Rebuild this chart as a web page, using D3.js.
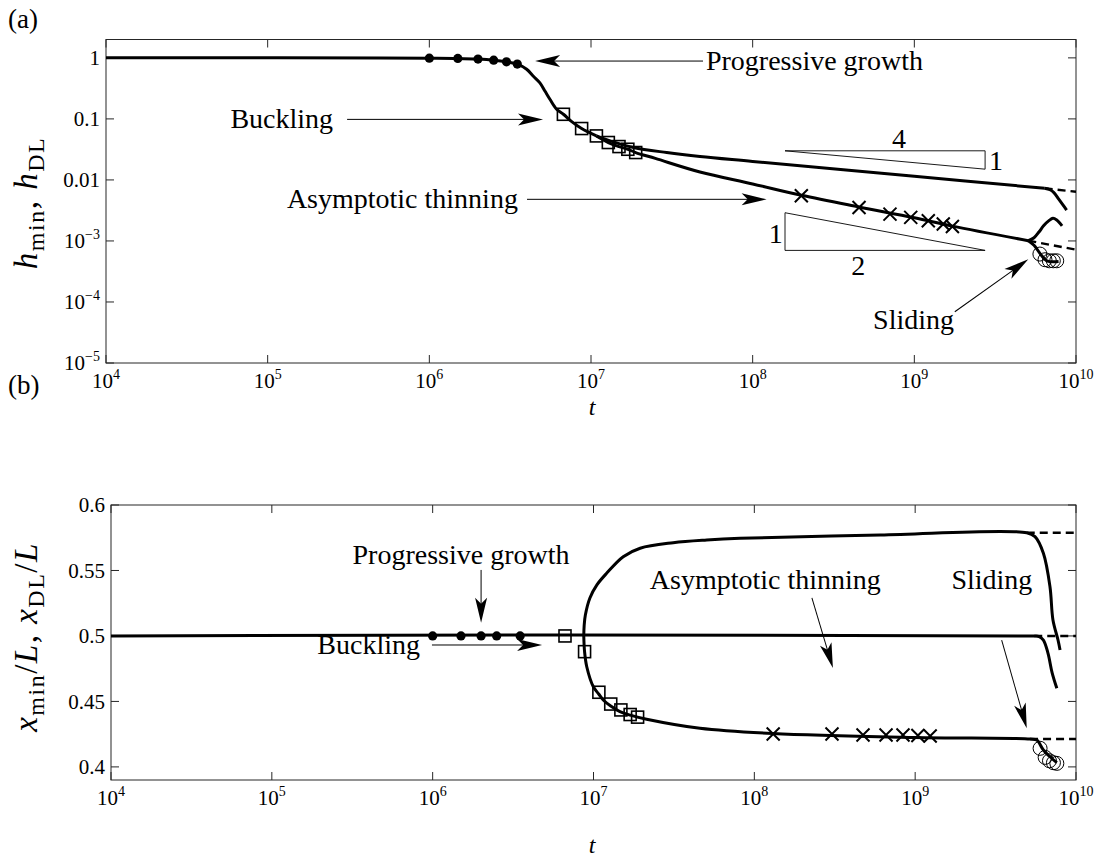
<!DOCTYPE html>
<html>
<head>
<meta charset="utf-8">
<script src="https://cdn.jsdelivr.net/npm/d3@7"></script>
<style>
  body { margin: 0; background: #fff; }
  svg { display: block; }
  svg text { font-family: "Liberation Serif", "DejaVu Serif", "Noto Serif", serif; fill: #000; }
</style>
</head>
<body>
<svg id="fig" width="1105" height="858"></svg>
<script>
// ---------------- axis ticks ----------------
const timeTicks = [1e4, 1e5, 1e6, 1e7, 1e8, 1e9, 1e10];
const timeTickExps = ["4", "5", "6", "7", "8", "9", "10"];
const hTicks = [1, 0.1, 0.01, 1e-3, 1e-4, 1e-5];
const hTickBase = ["1", "0.1", "0.01", "10", "10", "10"];
const hTickExps = ["", "", "", "\u22123", "\u22124", "\u22125"];
const posTicks = [0.6, 0.55, 0.5, 0.45, 0.4];
const posTickLabels = ["0.6", "0.55", "0.5", "0.45", "0.4"];

// ---------------- panel (a): film thickness ----------------
const hEarly = [[1e4, 1], [1e5, 1], [5e5, 0.998], [1e6, 0.99], [1.5e6, 0.98], [2e6, 0.955],
  [2.5e6, 0.915], [3e6, 0.86], [3.5e6, 0.79], [4e6, 0.65], [4.4e6, 0.5], [4.83e6, 0.39],
  [5.2e6, 0.283], [5.57e6, 0.21], [6.13e6, 0.144], [6.75e6, 0.119], [7.6e6, 0.09],
  [8.75e6, 0.0695], [1.08e7, 0.0526]];
const hUpper = [[1.08e7, 0.0526], [1.3e7, 0.044], [1.83e7, 0.034], [2.94e7, 0.0281],
  [4.72e7, 0.0242], [1e8, 0.0201], [1e9, 0.01146], [6.4e9, 0.0073]];
const hUpperDrop = [[6.4e9, 0.0073], [6.9e9, 0.0069], [7.3e9, 0.0062], [7.8e9, 0.0049],
  [8.3e9, 0.0039], [8.75e9, 0.0032]];
const hUpperDash = [[6.4e9, 0.0073], [1e10, 0.0064]];
const hLower = [[1.08e7, 0.0526], [1.28e7, 0.041], [1.49e7, 0.0352], [1.69e7, 0.0318],
  [1.89e7, 0.0281], [2.5e7, 0.0225], [4.72e7, 0.0135], [1e8, 0.0086], [2e8, 0.0056],
  [4.55e8, 0.0036], [1e9, 0.0024], [1.72e9, 0.00175], [5.07e9, 0.00101]];
const hLowerBump = [[5.07e9, 0.00101], [5.5e9, 0.00113], [5.9e9, 0.0014], [6.3e9, 0.00177],
  [6.8e9, 0.00215], [7.2e9, 0.00235], [7.6e9, 0.0022], [8.2e9, 0.00177]];
const hLowerDash = [[5.07e9, 0.00101], [1e10, 0.00072]];
const hLowerSlide = [[5.07e9, 0.00101], [5.5e9, 0.00085], [6.0e9, 0.00062], [6.6e9, 0.000473],
  [7.8e9, 0.00046]];

const growthT_a = [1e6, 1.5e6, 2e6, 2.5e6, 3e6, 3.5e6];
const growthH = [0.99, 0.98, 0.955, 0.915, 0.86, 0.79];
const buckleT = [6.75e6, 8.75e6, 1.08e7, 1.28e7, 1.49e7, 1.69e7, 1.89e7];
const buckleH = [0.119, 0.0695, 0.0526, 0.041, 0.0352, 0.0318, 0.0281];
const thinT_a = [2e8, 4.55e8, 7.07e8, 9.5e8, 1.22e9, 1.51e9, 1.72e9];
const thinH = [0.0055, 0.00354, 0.00275, 0.00243, 0.00214, 0.00189, 0.00173];
const slideT = [5.98e9, 6.43e9, 6.84e9, 7.24e9, 7.6e9];
const slideH = [6.1e-4, 4.92e-4, 4.73e-4, 4.73e-4, 4.73e-4];

// slope triangles (t, h corners) and their labels
const slopeQuarter = [[1.585e8, 0.030], [2.74e9, 0.030], [2.74e9, 0.0150]];
const slopeHalf = [[1.585e8, 0.0029], [1.585e8, 0.0007], [2.74e9, 0.0007]];
const slopeLabels = [["4", 8.04e8, 0.0485], ["1", 3.2e9, 0.0212], ["1", 1.39e8, 0.00136], ["2", 4.5e8, 0.000403]];

// ---------------- panel (b): position of the minimum ----------------
const posFlat = [[1e4, 0.5], [5.5e9, 0.5], [5.9e9, 0.4995], [6.27e9, 0.4969], [6.7e9, 0.4867],
  [7.1e9, 0.472], [7.6e9, 0.46]];
const posFlatDash = [[5.5e9, 0.5], [1e10, 0.5]];
const posUpper = [[8.7e6, 0.5], [8.75e6, 0.508], [8.9e6, 0.516], [9.5e6, 0.529], [1.05e7, 0.539],
  [1.21e7, 0.548], [1.53e7, 0.5605], [1.95e7, 0.567], [3.13e7, 0.5712], [5.06e7, 0.5733],
  [8.15e7, 0.5746], [6.05e8, 0.5771], [4.94e9, 0.5788], [5.56e9, 0.5758], [6.27e9, 0.5631],
  [6.89e9, 0.5376], [7.19e9, 0.5122], [7.73e9, 0.4969], [7.96e9, 0.4893]];
const posUpperDash = [[4.94e9, 0.5788], [1e10, 0.5788]];
const posLower = [[8.7e6, 0.5], [8.8e6, 0.488], [9.08e6, 0.4765], [9.98e6, 0.4612], [1.08e7, 0.4555],
  [1.15e7, 0.4511], [1.28e7, 0.4465], [1.46e7, 0.4422], [1.69e7, 0.4395], [2.14e7, 0.4364],
  [4.59e7, 0.4295], [1.3e8, 0.4255], [1e9, 0.4225], [5.18e9, 0.4213], [5.7e9, 0.4205],
  [6.27e9, 0.4129], [7.06e9, 0.4066], [7.6e9, 0.4032]];
const posLowerDash = [[5.18e9, 0.4213], [1e10, 0.4213]];

const growthT_b = [1e6, 1.5e6, 2e6, 2.5e6, 3.5e6];
const growthV = [0.5, 0.5, 0.5, 0.5, 0.5];
const buckleT_b = [6.65e6, 8.8e6, 1.08e7, 1.28e7, 1.48e7, 1.69e7, 1.88e7];
const buckleV = [0.5, 0.488, 0.457, 0.448, 0.4435, 0.440, 0.438];
const thinT_b = [1.31e8, 3.04e8, 4.74e8, 6.59e8, 8.4e8, 1.04e9, 1.24e9];
const thinV = [0.4251, 0.4251, 0.4244, 0.4244, 0.4244, 0.4240, 0.4236];
const slideT_b = [5.98e9, 6.43e9, 6.84e9, 7.24e9, 7.6e9];
const slideV = [0.4142, 0.4073, 0.4047, 0.4032, 0.4027];

// annotation text and arrows: [label, textT, textY, anchor, fromT, fromY, toT, toY]
const notesA = [
  ["Progressive growth", 5.14e7, 0.887, "start", 4.93e7, 0.887, 4.51e6, 0.887],
  ["Buckling", 2.54e5, 0.0982, "end", 3.1e5, 0.0982, 5.05e6, 0.0982],
  ["Asymptotic thinning", 3.53e6, 0.00481, "end", 4.02e6, 0.00481, 1.22e8, 0.00481],
  ["Sliding", 1.76e9, 5.06e-5, "end", 1.78e9, 6.92e-5, 5.07e9, 4.99e-4]
];
const notesB = [
  ["Progressive growth", 1.5e6, 0.5618, "middle", 2e6, 0.5504, 2e6, 0.5101],
  ["Buckling", 8.34e5, 0.4931, "end", 9.9e5, 0.4931, 4.79e6, 0.4931],
  ["Asymptotic thinning", 1.17e8, 0.5427, "middle", 2.28e8, 0.529, 3.08e8, 0.4755],
  ["Sliding", 3.0e9, 0.5427, "middle", 3.45e9, 0.4969, 4.94e9, 0.4295]
];

// ---------------- drawing ----------------
const svg = d3.select("#fig");
const tickFont = 21, noteFont = 28, labelFont = 33;

const xa = d3.scaleLog().domain([1e4, 1e10]).range([106, 1076]);
const ya = d3.scaleLog().domain([1e-5, 2]).range([363, 39.5]);
const xb = d3.scaleLog().domain([1e4, 1e10]).range([111, 1076]);
const yb = d3.scaleLinear().domain([0.39, 0.6]).range([780, 505]);

function frame(x, y, yTicks, yLabelFn) {
  const [x0, x1] = x.range();
  const [y0, y1] = y.range();
  const g = svg.append("g");
  g.append("rect").attr("x", x0).attr("y", y1).attr("width", x1 - x0).attr("height", y0 - y1)
    .attr("fill", "none").attr("stroke", "#262626").attr("stroke-width", 1);
  const tl = 8;
  timeTicks.forEach((t, i) => {
    const px = x(t);
    g.append("line").attr("x1", px).attr("x2", px).attr("y1", y0).attr("y2", y0 - tl).attr("stroke", "#262626");
    g.append("line").attr("x1", px).attr("x2", px).attr("y1", y1).attr("y2", y1 + tl).attr("stroke", "#262626");
    const tx = g.append("text").attr("x", px).attr("y", y0 + 25).attr("text-anchor", "middle")
      .attr("font-size", tickFont);
    tx.append("tspan").text("10");
    tx.append("tspan").attr("dy", -9).attr("font-size", 14).text(timeTickExps[i]);
  });
  yTicks.forEach((v, i) => {
    const py = y(v);
    g.append("line").attr("x1", x0).attr("x2", x0 + tl).attr("y1", py).attr("y2", py).attr("stroke", "#262626");
    g.append("line").attr("x1", x1).attr("x2", x1 - tl).attr("y1", py).attr("y2", py).attr("stroke", "#262626");
    yLabelFn(g, x0 - 6, py, i);
  });
  return g;
}

function curve(g, x, y, pts, dashed) {
  const line = d3.line().x(d => x(d[0])).y(d => y(d[1])).curve(d3.curveCatmullRom.alpha(0.5));
  g.append("path").attr("d", line(pts)).attr("fill", "none").attr("stroke", "#000")
    .attr("stroke-width", dashed ? 2.4 : 3).attr("stroke-linejoin", "round")
    .attr("stroke-dasharray", dashed ? "8,5" : null);
}

function markers(g, x, y, ts, vs, kind) {
  ts.forEach((t, i) => {
    const px = x(t), py = y(vs[i]);
    if (kind === "dot") {
      g.append("circle").attr("cx", px).attr("cy", py).attr("r", 4.6).attr("fill", "#000");
    } else if (kind === "square") {
      g.append("rect").attr("x", px - 6).attr("y", py - 6).attr("width", 12).attr("height", 12)
        .attr("fill", "none").attr("stroke", "#000").attr("stroke-width", 1.6);
    } else if (kind === "cross") {
      const s = 6.5;
      g.append("path").attr("d", `M${px - s},${py - s}L${px + s},${py + s}M${px - s},${py + s}L${px + s},${py - s}`)
        .attr("stroke", "#000").attr("stroke-width", 2);
    } else {
      g.append("circle").attr("cx", px).attr("cy", py).attr("r", 7).attr("fill", "none")
        .attr("stroke", "#000").attr("stroke-width", 1);
    }
  });
}

function arrow(g, x1, y1, x2, y2) {
  const ang = Math.atan2(y2 - y1, x2 - x1) * 180 / Math.PI;
  const len = Math.hypot(x2 - x1, y2 - y1);
  const a = g.append("g").attr("transform", `translate(${x1},${y1}) rotate(${ang})`);
  a.append("line").attr("x1", 0).attr("y1", 0).attr("x2", len - 18).attr("y2", 0)
    .attr("stroke", "#000").attr("stroke-width", 1);
  a.append("path").attr("d", `M${len},0L${len - 25},-6L${len - 19},0L${len - 25},6Z`).attr("fill", "#000");
}

function notes(g, x, y, list) {
  list.forEach(n => {
    g.append("text").attr("x", x(n[1])).attr("y", y(n[2])).attr("text-anchor", n[3])
      .attr("dy", "0.32em").attr("font-size", noteFont).text(n[0]);
    arrow(g, x(n[4]), y(n[5]), x(n[6]), y(n[7]));
  });
}

// ---- panel (a)
const gA = frame(xa, ya, hTicks, (g, px, py, i) => {
  const t = g.append("text").attr("x", px).attr("y", py).attr("dy", "0.35em").attr("text-anchor", "end")
    .attr("font-size", tickFont);
  t.append("tspan").text(hTickBase[i]);
  if (hTickExps[i]) t.append("tspan").attr("dy", -9).attr("font-size", 14).text(hTickExps[i]);
});
[hEarly, hUpper, hLower, hUpperDrop, hLowerBump, hLowerSlide].forEach(p => curve(gA, xa, ya, p, false));
[hUpperDash, hLowerDash].forEach(p => curve(gA, xa, ya, p, true));
markers(gA, xa, ya, growthT_a, growthH, "dot");
markers(gA, xa, ya, buckleT, buckleH, "square");
markers(gA, xa, ya, thinT_a, thinH, "cross");
markers(gA, xa, ya, slideT, slideH, "ring");

[slopeQuarter, slopeHalf].forEach(tri => {
  gA.append("path").attr("d", "M" + tri.map(d => `${xa(d[0])},${ya(d[1])}`).join("L") + "Z")
    .attr("fill", "none").attr("stroke", "#000").attr("stroke-width", 0.9);
});
slopeLabels.forEach(s => {
  gA.append("text").attr("x", xa(s[1])).attr("y", ya(s[2])).attr("dy", "0.35em").attr("text-anchor", "middle")
    .attr("font-size", noteFont).text(s[0]);
});
notes(gA, xa, ya, notesA);

// ---- panel (b)
const gB = frame(xb, yb, posTicks, (g, px, py, i) => {
  g.append("text").attr("x", px).attr("y", py).attr("dy", "0.35em").attr("text-anchor", "end")
    .attr("font-size", tickFont).text(posTickLabels[i]);
});
[posFlat, posUpper, posLower].forEach(p => curve(gB, xb, yb, p, false));
[posFlatDash, posUpperDash, posLowerDash].forEach(p => curve(gB, xb, yb, p, true));
markers(gB, xb, yb, growthT_b, growthV, "dot");
markers(gB, xb, yb, buckleT_b, buckleV, "square");
markers(gB, xb, yb, thinT_b, thinV, "cross");
markers(gB, xb, yb, slideT_b, slideV, "ring");
notes(gB, xb, yb, notesB);

// ---- panel tags and axis titles
svg.append("text").attr("x", 8).attr("y", 28).attr("font-size", 27).text("(a)");
svg.append("text").attr("x", 8).attr("y", 394).attr("font-size", 27).text("(b)");
[415, 853].forEach(by => {
  svg.append("text").attr("x", 592).attr("y", by).attr("text-anchor", "middle")
    .attr("font-size", 24).attr("font-style", "italic").text("t");
});

function yTitle(cx, cy, parts) {
  const t = svg.append("text").attr("transform", `translate(${cx},${cy}) rotate(-90)`)
    .attr("text-anchor", "middle").attr("font-size", labelFont).attr("letter-spacing", 1.5);
  parts.forEach(p => {
    const s = t.append("tspan").text(p[0]);
    if (p[1] === "i") s.attr("font-style", "italic");
    if (p[1] === "sub") s.attr("font-size", 24).attr("dy", 7);
    if (p[1] === "up") s.attr("dy", -7);
  });
}
yTitle(37, 203, [["h", "i"], ["min", "sub"], [", ", "up"], ["h", "i"], ["DL", "sub"]]);
yTitle(37, 637, [["x", "i"], ["min", "sub"], ["/", "up"], ["L", "i"], [", ", ""], ["x", "i"], ["DL", "sub"], ["/", "up"], ["L", "i"]]);
</script>
</body>
</html>
